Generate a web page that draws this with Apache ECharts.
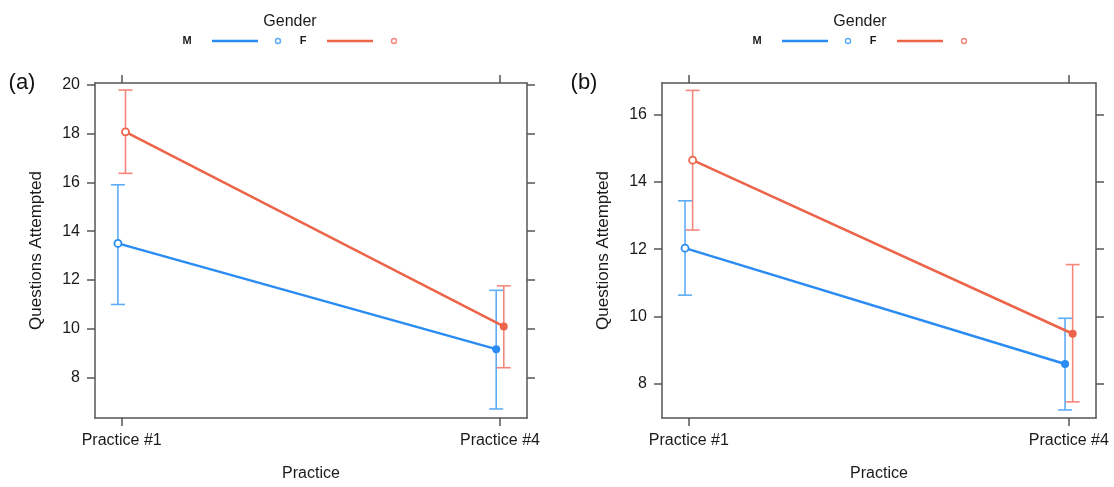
<!DOCTYPE html>
<html>
<head>
<meta charset="utf-8">
<title>Questions Attempted by Practice and Gender</title>
<script src="https://cdn.jsdelivr.net/npm/echarts@6/dist/echarts.min.js"></script>
<style>
  html, body { margin: 0; padding: 0; background: #fff; }
  #chart { width: 1114px; height: 487px; }
</style>
</head>
<body>
<div id="chart"></div>
<script>
// Practice sessions on the x axis
const categories = ['Practice #1', 'Practice #4'];
const genders = ['M', 'F'];

// Panel (a): mean and interval bounds per practice
const meanA_M = [13.5, 9.17];
const lowA_M  = [11.0, 6.72];
const highA_M = [15.9, 11.58];
const meanA_F = [18.07, 10.1];
const lowA_F  = [16.37, 8.41];
const highA_F = [19.78, 11.76];

// Panel (b)
const meanB_M = [12.03, 8.58];
const lowB_M  = [10.63, 7.21];
const highB_M = [13.44, 9.94];
const meanB_F = [14.65, 9.48];
const lowB_F  = [12.57, 7.45];
const highB_F = [16.73, 11.54];

// Y tick labels
const yTicksA = [8, 10, 12, 14, 16, 18, 20];
const yTicksB = [8, 10, 12, 14, 16];

const FONT = '"Liberation Sans", Arial, Helvetica, sans-serif';
const FRAME = '#555';
const TEXT = '#1a1a1a';
const LINE_COLOR = { M: '#2A8CF2', F: '#EC6449' };
const BAR_COLOR  = { M: '#5EACF6', F: '#F4867C' };
const DODGE = 0.01;          // horizontal separation of the two genders
const X_MIN = -0.0706, X_MAX = 1.0714;

const panels = [
  { grid: { left: 95, top: 83, width: 432, height: 338 }, yMin: 6.35, yMax: 20.07, yTicks: yTicksA,
    M: { mean: meanA_M, low: lowA_M, high: highA_M }, F: { mean: meanA_F, low: lowA_F, high: highA_F } },
  { grid: { left: 662, top: 83, width: 434, height: 338 }, yMin: 6.97, yMax: 16.95, yTicks: yTicksB,
    M: { mean: meanB_M, low: lowB_M, high: highB_M }, F: { mean: meanB_F, low: lowB_F, high: highB_F } }
];

const catIdx = categories.map((c, i) => i);
const grids = [], xAxes = [], yAxes = [], series = [];

panels.forEach((p, pi) => {
  grids.push(p.grid);
  const lineStyle = { color: FRAME, width: 1.5 };
  // bottom x axis with category labels
  xAxes.push({
    type: 'value', gridIndex: pi, position: 'bottom', min: X_MIN, max: X_MAX,
    name: 'Practice', nameLocation: 'middle', nameGap: 48,
    nameTextStyle: { fontFamily: FONT, fontSize: 16, color: TEXT },
    axisLine: { show: true, onZero: false, lineStyle },
    axisTick: { show: true, inside: false, length: 8, customValues: catIdx, lineStyle },
    axisLabel: { show: true, customValues: catIdx, margin: 15, fontFamily: FONT, fontSize: 16, color: TEXT,
                 formatter: v => categories[Math.round(v)] },
    splitLine: { show: false }
  });
  // top x axis: frame and ticks only
  xAxes.push({
    type: 'value', gridIndex: pi, position: 'top', min: X_MIN, max: X_MAX,
    axisLine: { show: true, onZero: false, lineStyle },
    axisTick: { show: true, inside: false, length: 8, customValues: catIdx, lineStyle },
    axisLabel: { show: false }, splitLine: { show: false }
  });
  yAxes.push({
    type: 'value', gridIndex: pi, position: 'left', min: p.yMin, max: p.yMax,
    name: 'Questions Attempted', nameLocation: 'middle', nameGap: 50, nameRotate: 90,
    nameTextStyle: { fontFamily: FONT, fontSize: 17, color: TEXT },
    axisLine: { show: true, onZero: false, lineStyle },
    axisTick: { show: true, inside: false, length: 8, customValues: p.yTicks, lineStyle },
    axisLabel: { show: true, customValues: p.yTicks, margin: 15, fontFamily: FONT, fontSize: 16, color: TEXT },
    splitLine: { show: false }
  });
  yAxes.push({
    type: 'value', gridIndex: pi, position: 'right', min: p.yMin, max: p.yMax,
    axisLine: { show: true, onZero: false, lineStyle },
    axisTick: { show: true, inside: false, length: 8, customValues: p.yTicks, lineStyle },
    axisLabel: { show: false }, splitLine: { show: false }
  });

  const xi = pi * 2, yi = pi * 2;
  genders.forEach((g, gi) => {
    const d = p[g];
    const shift = gi === 0 ? -DODGE : DODGE;
    // interval bars
    series.push({
      type: 'custom', name: g + ' interval', xAxisIndex: xi, yAxisIndex: yi, clip: false, z: 2,
      data: catIdx.map(i => [i + shift, d.low[i], d.high[i]]),
      renderItem: (params, api) => {
        const top = api.coord([api.value(0), api.value(2)]);
        const bot = api.coord([api.value(0), api.value(1)]);
        const half = 7;
        const st = { stroke: BAR_COLOR[g], lineWidth: 1.6 };
        return { type: 'group', children: [
          { type: 'line', shape: { x1: top[0], y1: top[1], x2: bot[0], y2: bot[1] }, style: st },
          { type: 'line', shape: { x1: top[0] - half, y1: top[1], x2: top[0] + half, y2: top[1] }, style: st },
          { type: 'line', shape: { x1: bot[0] - half, y1: bot[1], x2: bot[0] + half, y2: bot[1] }, style: st }
        ]};
      }
    });
    // mean line: open point at the first practice, filled at the last
    series.push({
      type: 'line', name: g, xAxisIndex: xi, yAxisIndex: yi, z: 3,
      lineStyle: { color: LINE_COLOR[g], width: 2.5 },
      itemStyle: { color: LINE_COLOR[g] },
      data: catIdx.map(i => i === 0
        ? { value: [i + shift, d.mean[i]], symbol: 'circle', symbolSize: 7,
            itemStyle: { color: '#fff', borderColor: LINE_COLOR[g], borderWidth: 1.8 } }
        : { value: [i + shift, d.mean[i]], symbol: 'circle', symbolSize: 8 }),
      animation: false
    });
  });
});

// Legend blocks above each panel and panel tags
const graphics = [];
[0, 570].forEach((dx, pi) => {
  graphics.push({ type: 'text', x: 290 + dx, y: 22,
    style: { text: 'Gender', font: '16px ' + FONT, fill: TEXT, align: 'center', verticalAlign: 'middle' } });
  const rowY = 41;
  [['M', 187, 212, 258, 278], ['F', 303, 327, 373, 394]].forEach(([g, tx, l1, l2, mx]) => {
    graphics.push({ type: 'text', x: tx + dx, y: rowY,
      style: { text: g, font: 'bold 11px ' + FONT, fill: TEXT, align: 'center', verticalAlign: 'middle' } });
    graphics.push({ type: 'line', shape: { x1: l1 + dx, y1: rowY, x2: l2 + dx, y2: rowY },
      style: { stroke: LINE_COLOR[g], lineWidth: 2.5 } });
    graphics.push({ type: 'circle', shape: { cx: mx + dx, cy: rowY, r: 2.5 },
      style: { fill: '#fff', stroke: BAR_COLOR[g], lineWidth: 1.4 } });
  });
  graphics.push({ type: 'text', x: [22, 584][pi], y: 83,
    style: { text: ['(a)', '(b)'][pi], font: '22px ' + FONT, fill: '#111', align: 'center', verticalAlign: 'middle' } });
});

const chart = echarts.init(document.getElementById('chart'), null, { renderer: 'canvas' });
chart.setOption({
  backgroundColor: '#fff',
  animation: false,
  grid: grids,
  xAxis: xAxes,
  yAxis: yAxes,
  series: series,
  graphic: graphics
});
</script>
</body>
</html>
